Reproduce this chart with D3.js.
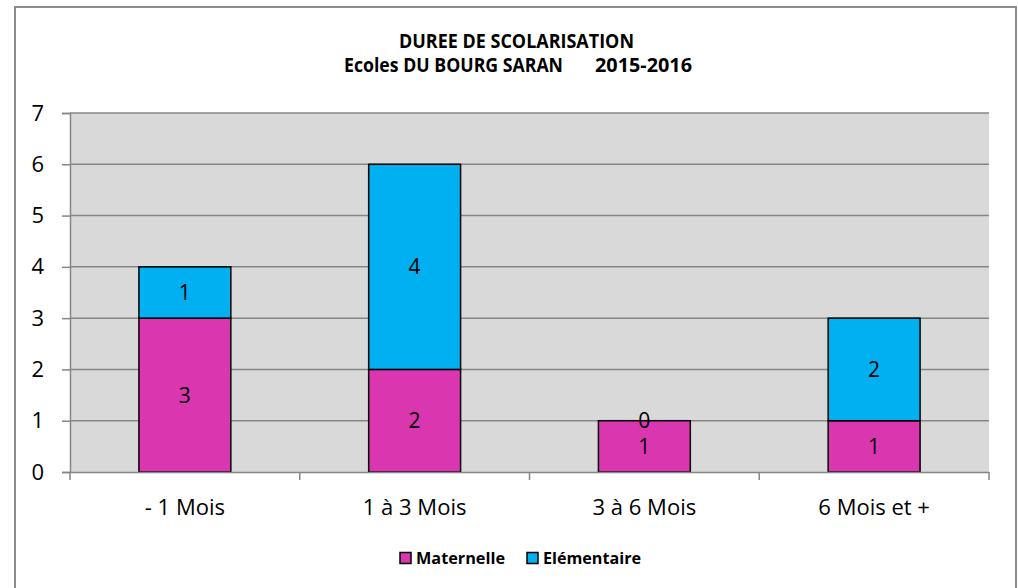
<!DOCTYPE html>
<html>
<head>
<meta charset="utf-8">
<script src="https://cdn.jsdelivr.net/npm/d3@7"></script>
<style>
  body { margin: 0; background: #fff; }
  text { font-family: "Open Sans", "Liberation Sans", sans-serif; }
</style>
</head>
<body>
<div class="chart"></div>
<script>
// data
let categories = ['- 1 Mois', '1 à 3 Mois', '3 à 6 Mois', '6 Mois et +'];
let maternelle = [3, 2, 1, 1];
let elementaire = [1, 4, 0, 2];
let seriesNames = ['Maternelle', 'Elémentaire'];
let seriesColors = ['#d936b0', '#00b0f0'];
let yTicks = [0, 1, 2, 3, 4, 5, 6, 7];

let margin = { top: 113, right: 29, bottom: 116, left: 70 };
let W = 1018, H = 588;
let width = W - margin.left - margin.right;
let height = H - margin.top - margin.bottom;

let svg = d3.select('.chart').append('svg')
    .attr('width', W).attr('height', H);

// outer frame
svg.append('path')
    .attr('d', 'M15,590 L15,7 L1016,7 L1016,590')
    .attr('fill', 'none').attr('stroke', '#8c8c8c').attr('stroke-width', 2);

// title
svg.append('text').attr('x', 399).attr('y', 48)
    .style('font-weight', 'bold').style('font-size', '19.5px')
    .attr('textLength', 235).attr('lengthAdjust', 'spacingAndGlyphs')
    .text('DUREE DE SCOLARISATION');
svg.append('text').attr('x', 344).attr('y', 72)
    .style('font-weight', 'bold').style('font-size', '19.5px')
    .attr('textLength', 219).attr('lengthAdjust', 'spacingAndGlyphs')
    .text('Ecoles DU BOURG SARAN');
svg.append('text').attr('x', 595).attr('y', 72)
    .style('font-weight', 'bold').style('font-size', '19.5px')
    .attr('textLength', 97).attr('lengthAdjust', 'spacingAndGlyphs')
    .text('2015-2016');

let g = svg.append('g').attr('transform', `translate(${margin.left},${margin.top})`);

let x = d3.scaleBand().domain(categories).range([0, width]).paddingInner(0).paddingOuter(0);
let y = d3.scaleLinear().domain([0, 7]).range([height, 0]);

g.append('rect').attr('width', width).attr('height', height).attr('fill', '#d9d9d9');

// gridlines
g.selectAll('.grid').data(yTicks.slice(1)).enter().append('line')
    .attr('x1', 0).attr('x2', width)
    .attr('y1', d => y(d)).attr('y2', d => y(d))
    .attr('stroke', '#868686').attr('stroke-width', 1.5);

// y axis
let yAxis = g.append('g').call(d3.axisLeft(y).tickValues(yTicks).tickSize(8).tickPadding(18).tickFormat(d3.format('d')));
yAxis.select('.domain').attr('stroke', '#868686').attr('stroke-width', 1.5);
yAxis.selectAll('.tick line').attr('stroke', '#868686').attr('stroke-width', 1.5);
yAxis.selectAll('text').style('font-size', '22px').attr('fill', '#000');

// stacked data
let rows = categories.map((c, i) => ({ cat: c, Maternelle: maternelle[i], 'Elémentaire': elementaire[i] }));
let stack = d3.stack().keys(seriesNames)(rows);

let barW = x.bandwidth() * 0.4;
stack.forEach((layer, li) => {
    g.selectAll('.bar' + li).data(layer).enter().append('rect')
        .attr('x', d => x(d.data.cat) + (x.bandwidth() - barW) / 2)
        .attr('y', d => y(d[1]))
        .attr('width', barW)
        .attr('height', d => y(d[0]) - y(d[1]))
        .attr('fill', seriesColors[li])
        .attr('stroke', '#000').attr('stroke-width', 1.5);
});
stack.forEach((layer, li) => {
    g.selectAll('.lab' + li).data(layer).enter().append('text')
        .attr('x', d => x(d.data.cat) + x.bandwidth() / 2)
        .attr('y', d => (y(d[0]) + y(d[1])) / 2)
        .attr('dy', '0.36em')
        .attr('text-anchor', 'middle')
        .style('font-size', '21px')
        .text(d => d[1] - d[0]);
});

// x axis
let xAxis = g.append('g').attr('transform', `translate(0,${height})`)
    .call(d3.axisBottom(x).tickSize(0).tickPadding(27));
xAxis.select('.domain').attr('stroke', '#868686').attr('stroke-width', 1.5);
xAxis.selectAll('text').style('font-size', '22px').attr('fill', '#000');
g.selectAll('.xt').data(d3.range(categories.length + 1)).enter().append('line')
    .attr('x1', i => i * x.step()).attr('x2', i => i * x.step())
    .attr('y1', height).attr('y2', height + 8)
    .attr('stroke', '#868686').attr('stroke-width', 1.5);

// legend
let legend = svg.append('g').attr('transform', 'translate(400,558)');
let lx = [0, 127];
let lw = [89, 98];
seriesNames.forEach((s, i) => {
    legend.append('rect').attr('x', lx[i]).attr('y', -5.5).attr('width', 11).attr('height', 11)
        .attr('fill', seriesColors[i]).attr('stroke', '#000').attr('stroke-width', 1.5);
    legend.append('text').attr('x', lx[i] + 16).attr('y', 0).attr('dy', '0.36em')
        .style('font-size', '16px').style('font-weight', 'bold')
        .attr('textLength', lw[i]).attr('lengthAdjust', 'spacingAndGlyphs')
        .text(s);
});
</script>
</body>
</html>
